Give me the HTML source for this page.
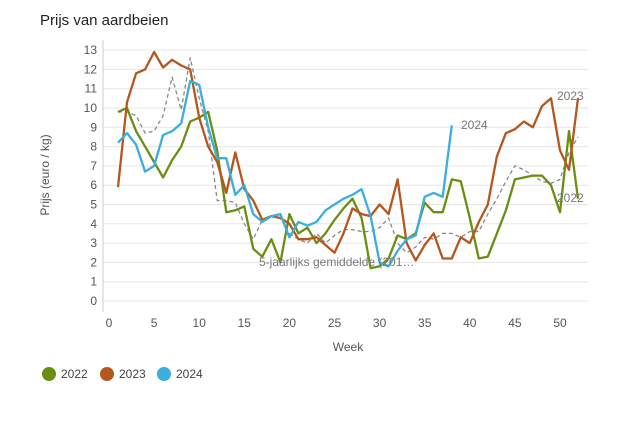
<!DOCTYPE html>
<html><head><meta charset="utf-8"><style>
body{margin:0;background:#fff;font-family:"Liberation Sans",sans-serif}
svg text{font-family:"Liberation Sans",sans-serif}
</style></head><body>
<svg id="s" width="626" height="417" xmlns="http://www.w3.org/2000/svg">
<text x="40" y="25" font-size="15" fill="#222">Prijs van aardbeien</text>
<g id="grid"></g>
<text transform="translate(49,175) rotate(-90)" text-anchor="middle" font-size="12" fill="#555">Prijs (euro / kg)</text>
<text x="348" y="351" text-anchor="middle" font-size="12" fill="#555">Week</text>
<g id="lines"></g>
<text x="461" y="129" font-size="12" fill="#777">2024</text>
<text x="557" y="100" font-size="12" fill="#777">2023</text>
<text x="557" y="202" font-size="12" fill="#777">2022</text>
<text x="259" y="266" font-size="12" fill="#777">5-jaarlijks gemiddelde (201…</text>
<circle cx="49" cy="374" r="7" fill="#6b8e12"/><text x="61" y="378" font-size="12" fill="#444">2022</text>
<circle cx="107" cy="374" r="7" fill="#b5561e"/><text x="119" y="378" font-size="12" fill="#444">2023</text>
<circle cx="164" cy="374" r="7" fill="#3aaedc"/><text x="176" y="378" font-size="12" fill="#444">2024</text>
</svg>
<script>
var NS="http://www.w3.org/2000/svg",g=document.getElementById("grid"),L=document.getElementById("lines");
function X(w){return 109+9.02*w}function Y(v){return 301-19.3*v}
function el(t,a,p,txt){var e=document.createElementNS(NS,t);for(var k in a)e.setAttribute(k,a[k]);if(txt!==undefined)e.textContent=txt;p.appendChild(e);return e}
for(var i=0;i<=13;i++){el("line",{x1:103,x2:588,y1:Y(i),y2:Y(i),stroke:"#e6e6e6","stroke-width":1},g);el("text",{x:97,y:Y(i)+4,"text-anchor":"end","font-size":12,fill:"#555"},g,i)}
el("line",{x1:103,x2:103,y1:40,y2:312,stroke:"#ccc"},g);
for(var w=0;w<=50;w+=5){el("text",{x:X(w),y:327,"text-anchor":"middle","font-size":12,fill:"#555"},g,w)}
function line(d,c,wd,dash){var p=d.map(function(v,i){return X(i+1).toFixed(1)+","+Y(v).toFixed(1)}).join(" ");var a={points:p,fill:"none",stroke:c,"stroke-width":wd,"stroke-linejoin":"round"};if(dash)a["stroke-dasharray"]=dash;el("polyline",a,L)}
var avg=[9.8,9.8,9.6,8.7,8.8,9.6,11.6,9.9,12.6,10.5,8.8,5.2,5.2,5.1,4.0,3.2,4.2,4.4,4.3,3.5,3.2,3.0,3.5,3.0,3.4,3.7,3.7,3.6,3.6,3.8,4.3,3.0,2.5,2.8,3.3,3.2,3.5,3.5,3.3,3.6,3.6,4.5,5.3,6.2,7.0,6.8,6.5,6.2,6.1,6.3,7.7,8.5];
var a22=[9.8,10.0,8.8,8.0,7.2,6.4,7.3,8.0,9.3,9.5,9.8,7.8,4.6,4.7,4.9,2.7,2.3,3.2,2.0,4.5,3.5,3.8,3.0,3.5,4.2,4.8,5.3,4.3,1.7,1.8,2.2,3.4,3.2,3.5,5.1,4.6,4.6,6.3,6.2,4.3,2.2,2.3,3.5,4.7,6.3,6.4,6.5,6.5,6.0,4.6,8.8,5.3];
var a23=[5.9,10.3,11.8,12.0,12.9,12.1,12.5,12.2,12.0,9.5,8.0,7.2,5.6,7.7,5.8,5.2,4.2,4.4,4.3,4.0,3.2,3.2,3.3,2.9,2.5,3.5,4.8,4.5,4.4,5.0,4.5,6.3,3.0,2.1,2.9,3.5,2.2,2.2,3.3,3.0,4.1,5.0,7.5,8.7,8.9,9.3,9.0,10.1,10.5,7.8,6.8,10.5];
var a24=[8.2,8.7,8.1,6.7,7.0,8.6,8.8,9.2,11.4,11.2,9.0,7.4,7.4,5.5,6.0,4.5,4.1,4.4,4.5,3.3,4.1,3.9,4.1,4.7,5.0,5.3,5.5,5.8,4.4,2.0,1.8,2.6,3.2,3.4,5.4,5.6,5.4,9.1];
line(avg,"#888",1.3,"4,3");line(a22,"#6b8e12",2.3);line(a23,"#b5561e",2.3);line(a24,"#3aaedc",2.3);
</script>
</body></html>
